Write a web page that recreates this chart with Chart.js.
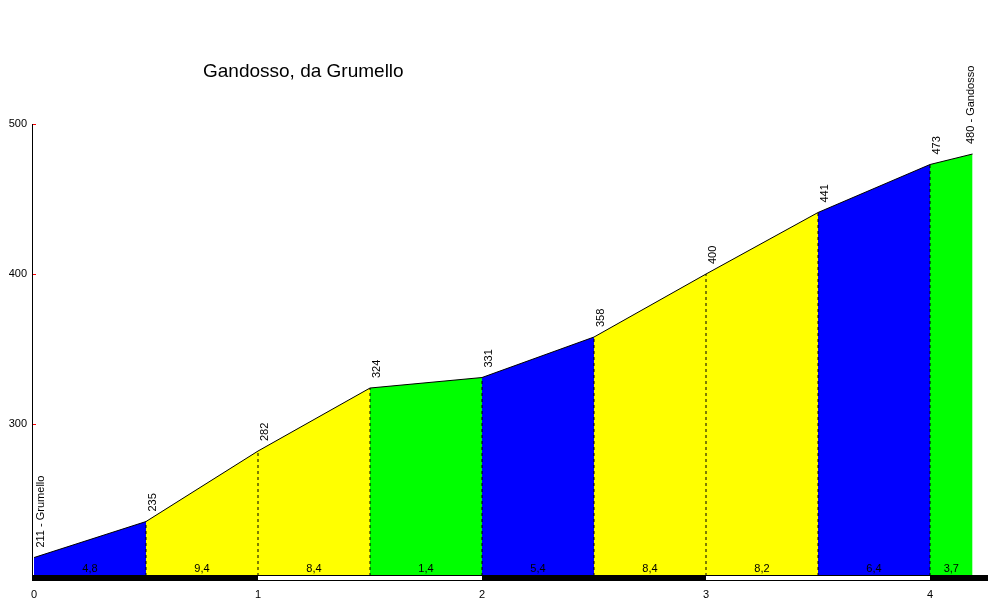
<!DOCTYPE html>
<html>
<head>
<meta charset="utf-8">
<script src="https://cdn.jsdelivr.net/npm/chart.js@4.4.1/dist/chart.umd.min.js"></script>
<style>
  html, body { margin: 0; padding: 0; background: #fff; }
  #wrap { width: 988px; height: 604px; position: relative; }
</style>
</head>
<body>
<div id="wrap"><canvas id="c" width="988" height="604"></canvas></div>
<script>
// ---- data ----
const title = 'Gandosso, da Grumello';
const startName = 'Grumello';
const endName = 'Gandosso';
const distancesKm = [0, 0.5, 1, 1.5, 2, 2.5, 3, 3.5, 4, 4.19];
const elevations = [211, 235, 282, 324, 331, 358, 400, 441, 473, 480];
const gradients = [4.8, 9.4, 8.4, 1.4, 5.4, 8.4, 8.2, 6.4, 3.7];
const yTickValues = [300, 400, 500];
const xTickValues = [0, 1, 2, 3, 4];

// ---- styling helpers ----
const FONT = '"Liberation Sans", Arial, sans-serif';
const Y_MIN = 198.7, Y_MAX = 500;
function gradientColor(g) {
  if (g < 4) return '#00ff00';
  if (g < 8) return '#0000ff';
  return '#ffff00';
}
function fmt(g) { return g.toFixed(1).replace('.', ','); }

const datasets = [];
// dashed dividers (drawn on top)
for (let i = 1; i < distancesKm.length - 1; i++) {
  datasets.push({
    type: 'line',
    data: [{x: distancesKm[i], y: Y_MIN}, {x: distancesKm[i], y: elevations[i]}],
    borderColor: '#000', borderWidth: 1, borderDash: [3, 3],
    pointRadius: 0, fill: false, order: 0
  });
}
// profile segments
for (let i = 0; i < gradients.length; i++) {
  datasets.push({
    type: 'line',
    data: [{x: distancesKm[i], y: elevations[i]}, {x: distancesKm[i + 1], y: elevations[i + 1]}],
    borderColor: '#000', borderWidth: 1,
    backgroundColor: gradientColor(gradients[i]),
    pointRadius: 0, fill: 'start', order: 1
  });
}

const overlay = {
  id: 'overlay',
  afterDatasetsDraw(chart) {
    const ctx = chart.ctx, xs = chart.scales.x, ys = chart.scales.y, ca = chart.chartArea;
    ctx.save();
    // title
    ctx.fillStyle = '#000';
    ctx.font = '19px ' + FONT;
    ctx.textAlign = 'left';
    ctx.textBaseline = 'alphabetic';
    ctx.fillText(title, 203, 77);
    // red ticks on y axis
    ctx.strokeStyle = '#ff0000';
    ctx.lineWidth = 1;
    yTickValues.forEach(v => {
      const y = Math.round(ys.getPixelForValue(v)) + 0.5;
      ctx.beginPath(); ctx.moveTo(ca.left + 1, y); ctx.lineTo(ca.left + 4, y); ctx.stroke();
    });
    // km bar
    const barTop = ca.bottom - 1, barH = 6;
    const endKm = distancesKm[distancesKm.length - 1];
    for (let k = 0; k < Math.ceil(endKm); k++) {
      const x0 = xs.getPixelForValue(k);
      const x1 = (k + 1 >= endKm) ? chart.width : xs.getPixelForValue(k + 1);
      if (k % 2 === 0) {
        ctx.fillStyle = '#000';
        ctx.fillRect(x0, barTop, x1 - x0, barH);
      } else {
        ctx.fillStyle = '#fff';
        ctx.fillRect(x0, barTop, x1 - x0, barH);
        ctx.fillStyle = '#000';
        ctx.fillRect(x0, barTop, x1 - x0, 1);
        ctx.fillRect(x0, barTop + barH - 1, x1 - x0, 1);
      }
    }
    ctx.fillStyle = '#000';
    ctx.fillRect(ca.left, barTop, xs.getPixelForValue(0) - ca.left, barH);
    // gradient labels
    ctx.font = '11px ' + FONT;
    ctx.textAlign = 'center';
    ctx.textBaseline = 'middle';
    gradients.forEach((g, i) => {
      const xc = (xs.getPixelForValue(distancesKm[i]) + xs.getPixelForValue(distancesKm[i + 1])) / 2;
      ctx.fillText(fmt(g), xc, ca.bottom - 7);
    });
    // elevation labels
    elevations.forEach((e, i) => {
      let text = String(e);
      if (i === 0) text = e + ' - ' + startName;
      if (i === elevations.length - 1) text = e + ' - ' + endName;
      const x = Math.min(xs.getPixelForValue(distancesKm[i]) + 6.5, chart.width - 17);
      const y = ys.getPixelForValue(e) - 10;
      ctx.save();
      ctx.translate(x, y);
      ctx.rotate(-Math.PI / 2);
      ctx.textAlign = 'left';
      ctx.textBaseline = 'middle';
      ctx.fillText(text, 0, 0);
      ctx.restore();
    });
    ctx.restore();
  }
};

new Chart(document.getElementById('c'), {
  data: { datasets },
  plugins: [overlay],
  options: {
    responsive: false,
    animation: false,
    events: [],
    layout: { padding: { top: 124, right: 0, bottom: 0, left: 0 } },
    plugins: { legend: { display: false }, tooltip: { enabled: false }, title: { display: false } },
    elements: { line: { tension: 0 } },
    scales: {
      x: {
        type: 'linear',
        min: -2 / 224,
        max: 954 / 224,
        afterBuildTicks(s) { s.ticks = xTickValues.map(v => ({ value: v })); },
        afterFit(s) { s.height = 28; },
        grid: { display: false, drawTicks: false },
        border: { display: false },
        ticks: { color: '#000', font: { family: FONT, size: 11 }, padding: 12, maxRotation: 0,
                 callback: v => String(v) }
      },
      y: {
        type: 'linear',
        min: Y_MIN,
        max: Y_MAX,
        afterBuildTicks(s) { s.ticks = yTickValues.map(v => ({ value: v })); },
        afterFit(s) { s.width = 32; },
        grid: { display: false, drawTicks: false },
        border: { display: true, color: '#000', width: 1 },
        ticks: { color: '#000', font: { family: FONT, size: 11 }, padding: 5,
                 callback: v => String(v) }
      }
    }
  }
});
</script>
</body>
</html>
